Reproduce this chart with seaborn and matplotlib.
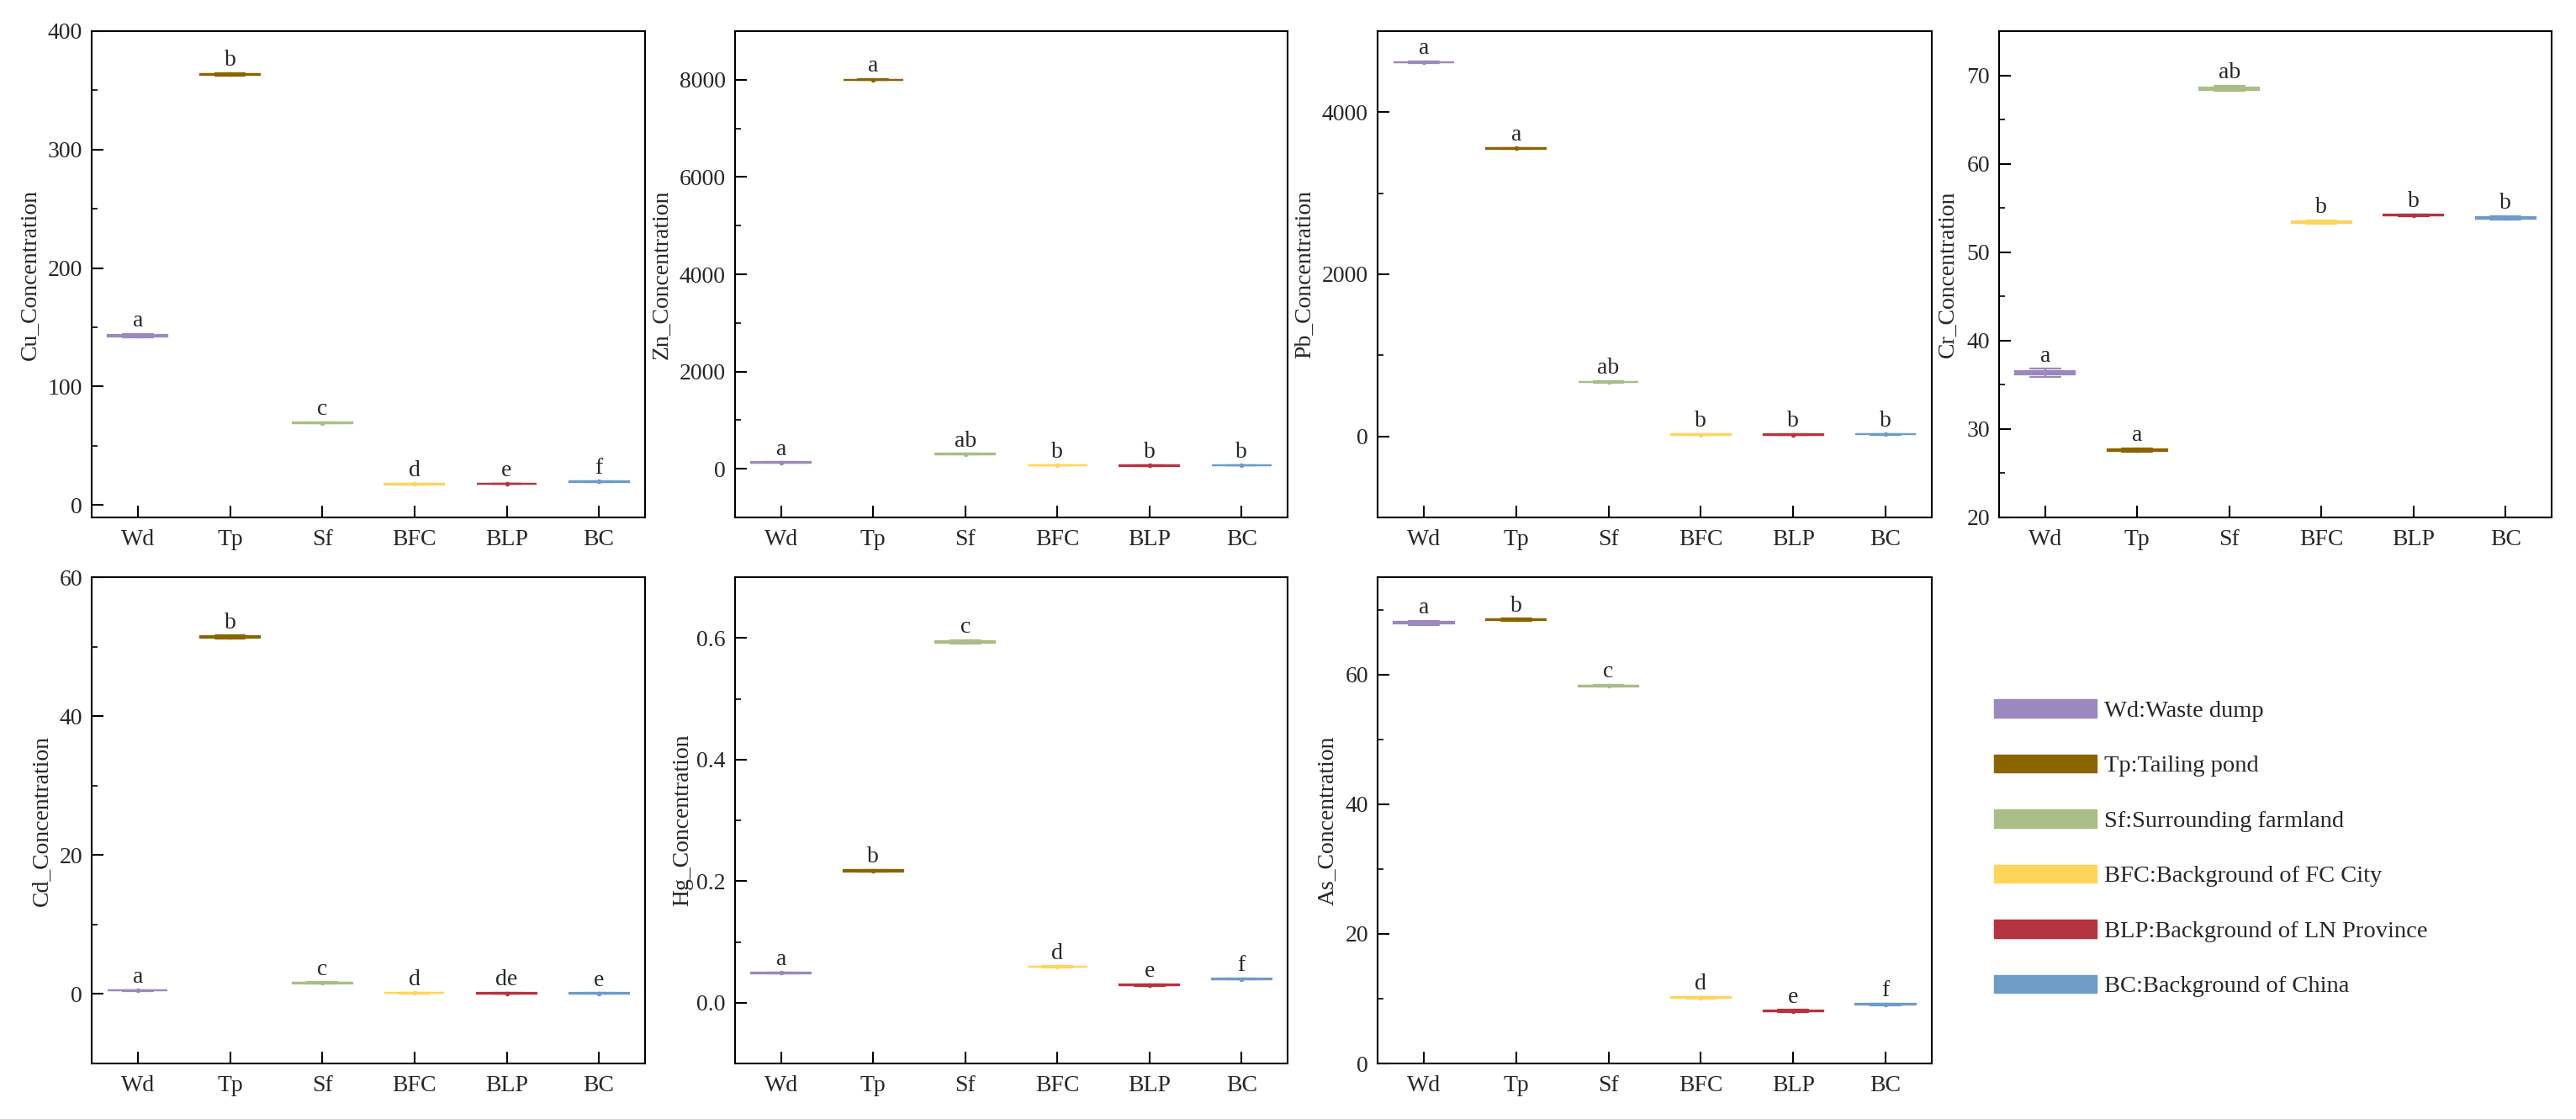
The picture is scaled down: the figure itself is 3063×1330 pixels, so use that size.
import numpy as np
import pandas as pd
import matplotlib
matplotlib.use("Agg")
import matplotlib.pyplot as plt
import seaborn as sns
from matplotlib.ticker import MultipleLocator
from matplotlib.patches import Patch

# ---------------- data ----------------
groups = ["Wd", "Tp", "Sf", "BFC", "BLP", "BC"]
group_names = ["Wd:Waste dump", "Tp:Tailing pond", "Sf:Surrounding farmland",
               "BFC:Background of FC City", "BLP:Background of LN Province",
               "BC:Background of China"]
colors = ["#9B88BE", "#8B6400", "#AABD86", "#FFD45A", "#B5343F", "#6E9BC8"]

cu_values = [[141.8, 143.0, 144.2], [362.5, 363.5, 364.5], [68.8, 69.3, 69.8],
             [17.2, 17.6, 18.0], [17.6, 17.9, 18.2], [19.4, 19.7, 20.0]]
zn_values = [[125, 131, 137], [7990, 8000, 8010], [300, 305, 310],
             [66, 73, 80], [60, 65, 70], [70, 74, 78]]
pb_values = [[4606, 4616, 4626], [3548, 3555, 3562], [665, 672, 679],
             [18, 22, 26], [15, 21, 27], [22, 26, 30]]
cr_values = [[35.9, 36.4, 36.8], [27.4, 27.6, 27.8], [68.2, 68.5, 68.8],
             [53.2, 53.4, 53.6], [54.1, 54.2, 54.3], [53.7, 53.9, 54.1]]
cd_values = [[0.45, 0.52, 0.59], [51.2, 51.4, 51.6], [1.5, 1.6, 1.7],
             [0.10, 0.16, 0.22], [0.07, 0.108, 0.14], [0.06, 0.097, 0.13]]
hg_values = [[0.048, 0.049, 0.050], [0.215, 0.217, 0.219], [0.590, 0.593, 0.596],
             [0.058, 0.059, 0.060], [0.028, 0.029, 0.030], [0.038, 0.039, 0.040]]
as_values = [[67.6, 68.0, 68.3], [68.3, 68.45, 68.6], [58.1, 58.25, 58.4],
             [10.0, 10.14, 10.3], [7.95, 8.1, 8.25], [8.95, 9.1, 9.25]]

cu_letters = ["a", "b", "c", "d", "e", "f"]
zn_letters = ["a", "a", "ab", "b", "b", "b"]
pb_letters = ["a", "a", "ab", "b", "b", "b"]
cr_letters = ["a", "a", "ab", "b", "b", "b"]
cd_letters = ["a", "b", "c", "d", "de", "e"]
hg_letters = ["a", "b", "c", "d", "e", "f"]
as_letters = ["a", "b", "c", "d", "e", "f"]

metals = ["Cu", "Zn", "Pb", "Cr", "Cd", "Hg", "As"]
metal_values = [cu_values, zn_values, pb_values, cr_values, cd_values, hg_values, as_values]
metal_letters = [cu_letters, zn_letters, pb_letters, cr_letters, cd_letters, hg_letters, as_letters]
y_limits = [(-10.5, 400), (-1000, 9000), (-1000, 5000), (20, 75), (-10, 60), (-0.1, 0.7), (0, 75)]
y_major = [100, 2000, 2000, 10, 20, 0.2, 20]
y_minor = [50, 1000, 1000, 5, 10, 0.1, 10]
ylabel_x = [-0.091, -0.114, -0.112, -0.073, -0.071, -0.076, -0.070]

# ---------------- style ----------------
sns.set_theme(style="ticks")
plt.rcParams["font.family"] = ["Liberation Serif", "DejaVu Serif"]
plt.rcParams["axes.linewidth"] = 1.5
plt.rcParams["mathtext.default"] = "regular"

W, H = 3063, 1330
fig = plt.figure(figsize=(W / 100, H / 100), dpi=100)

col_px = [(109, 767), (874, 1531), (1638, 2297), (2377, 3034)]
row_px = [(37, 615), (686, 1264)]

positions = [(0, 0), (0, 1), (0, 2), (0, 3), (1, 0), (1, 1), (1, 2)]

for k, (metal, vals, letters) in enumerate(zip(metals, metal_values, metal_letters)):
    r, c = positions[k]
    x0, x1 = col_px[c]
    y0, y1 = row_px[r]
    ax = fig.add_axes([x0 / W, 1 - y1 / H, (x1 - x0) / W, (y1 - y0) / H])

    df = pd.DataFrame({
        "group": np.repeat(groups, [len(v) for v in vals]),
        "value": np.concatenate([np.asarray(v, float) for v in vals]),
    })
    sns.boxplot(data=df, x="group", y="value", hue="group", order=groups,
                hue_order=groups, palette=colors, width=0.65, linewidth=1.6,
                legend=False, fliersize=0, showmeans=True,
                meanprops=dict(marker="o", markersize=3), ax=ax)

    # recolor every box element with its group colour
    for cont, col in zip(ax.containers, colors):
        for b in getattr(cont, "boxes", []):
            b.set_facecolor(col)
            b.set_edgecolor(col)
        for attr in ["medians", "whiskers", "caps"]:
            for ln in getattr(cont, attr, []):
                ln.set_color(col)
        for ln in getattr(cont, "means", []):
            ln.set_markerfacecolor(col)
            ln.set_markeredgecolor(col)

    for i, g in enumerate(groups):
        ax.annotate(letters[i], (i, max(vals[i])), xytext=(0, 2),
                    textcoords="offset points", ha="center", va="bottom",
                    fontsize=20)

    ax.set_xlim(-0.5, 5.5)
    ax.set_ylim(*y_limits[k])
    ax.yaxis.set_major_locator(MultipleLocator(y_major[k]))
    ax.yaxis.set_minor_locator(MultipleLocator(y_minor[k]))
    if metal == "Hg":
        ax.yaxis.set_major_formatter(matplotlib.ticker.FormatStrFormatter("%.1f"))
    ax.set_xlabel("")
    ax.set_ylabel(f"{metal}_Concentration", fontsize=20)
    ax.yaxis.set_label_coords(ylabel_x[k], 0.5)
    ax.tick_params(axis="both", which="major", direction="in", length=10,
                   width=1.5, labelsize=20, pad=8, color="black",
                   top=False, right=False)
    ax.tick_params(axis="x", which="major", pad=10)
    ax.tick_params(axis="y", which="minor", direction="in", length=5,
                   width=1.2, color="black", right=False)
    for sp in ax.spines.values():
        sp.set_visible(True)
        sp.set_color("black")
        sp.set_linewidth(1.5)

# legend panel
handles = [Patch(facecolor=col, edgecolor=col, label=lab)
           for col, lab in zip(colors, group_names)]
fig.legend(handles=handles, loc="upper left",
           bbox_to_anchor=(2371 / W, 1 - 831 / H), frameon=False,
           fontsize=20.5, handlelength=4.3, handleheight=0.8,
           handletextpad=0.3, labelspacing=1.36, borderpad=0,
           borderaxespad=0)

fig.savefig("out.png", dpi=100)
